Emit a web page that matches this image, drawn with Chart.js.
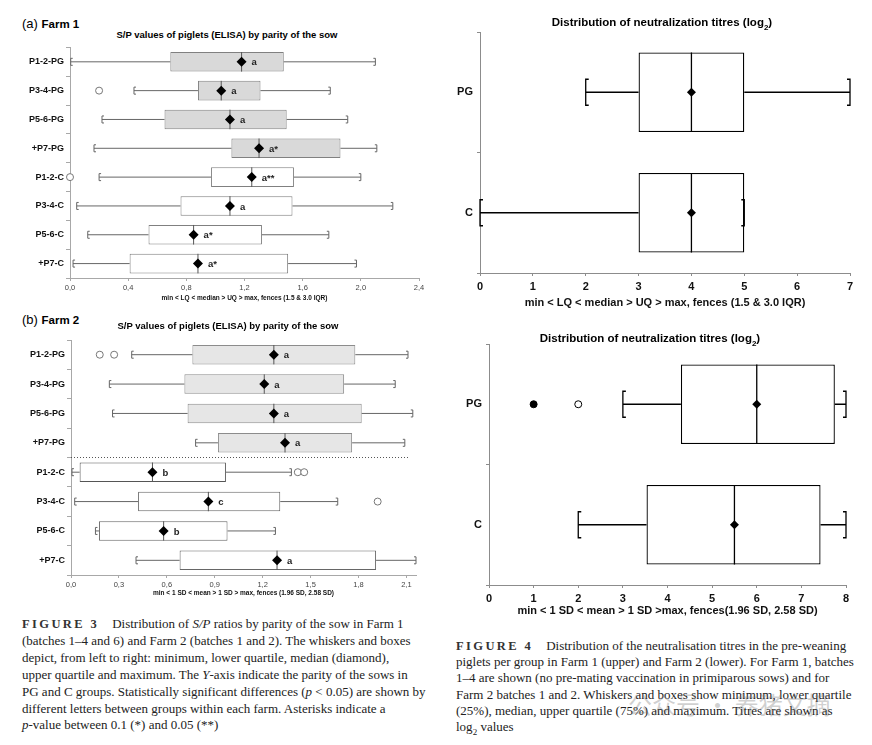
<!DOCTYPE html>
<html>
<head>
<meta charset="utf-8">
<script src="https://cdn.jsdelivr.net/npm/chart.js@4.4.1/dist/chart.umd.min.js"></script>
<style>
  body { margin:0; background:#fff; width:872px; height:745px; position:relative; overflow:hidden; font-family:'Liberation Sans', Arial, sans-serif; }
  canvas { position:absolute; }
  .t { position:absolute; white-space:nowrap; color:#000; }
  .panel { font-size:13px; transform:translateY(-50%); }
  .panel b { font-size:11.5px; }
  .ttl { font-weight:bold; transform:translate(-50%,-50%); }
  .ttl3 { font-size:9.5px; }
  .ttl4 { font-size:11.5px; }
  .cap { font-family:'Liberation Serif', 'DejaVu Serif', serif; font-size:13px; line-height:16.9px; color:#222; }
  .fig { font-weight:bold; letter-spacing:2.4px; font-size:12.5px; color:#333; }
  .wm { font-family:'Noto Sans CJK SC', sans-serif; font-size:24px; color:rgba(120,120,120,0.35); }
</style>
</head>
<body>
<canvas id="f3a" width="440" height="270" style="left:0;top:40px"></canvas>
<canvas id="f3b" width="440" height="277" style="left:0;top:330px"></canvas>
<canvas id="f4a" width="432" height="293" style="left:440px;top:20px"></canvas>
<canvas id="f4b" width="432" height="295" style="left:440px;top:330px"></canvas>

<div class="t panel" style="left:22px;top:23px">(a) <b>Farm 1</b></div>
<div class="t ttl ttl3" style="left:227px;top:34px">S/P values of piglets (ELISA) by parity of the sow</div>
<div class="t panel" style="left:22px;top:319px">(b) <b>Farm 2</b></div>
<div class="t ttl ttl3" style="left:228px;top:325px">S/P values of piglets (ELISA) by parity of the sow</div>
<div class="t ttl ttl4" style="left:662px;top:24px">Distribution of neutralization titres (log<sub style="font-size:8px">2</sub>)</div>
<div class="t ttl ttl4" style="left:650px;top:340px">Distribution of neutralization titres (log<sub style="font-size:8px">2</sub>)</div>

<div class="t cap" style="left:22px;top:616px"><span class="fig">FIGURE 3</span>&nbsp;&nbsp;&nbsp; Distribution of <i>S/P</i> ratios by parity of the sow in Farm 1<br>(batches 1–4 and 6) and Farm 2 (batches 1 and 2). The whiskers and boxes<br>depict, from left to right: minimum, lower quartile, median (diamond),<br>upper quartile and maximum. The <i>Y</i>-axis indicate the parity of the sows in<br>PG and C groups. Statistically significant differences (<i>p</i> &lt; 0.05) are shown by<br>different letters between groups within each farm. Asterisks indicate a<br><i>p</i>-value between 0.1 (*) and 0.05 (**)</div>
<div class="t cap" style="left:456px;top:638px;line-height:16.2px"><span class="fig">FIGURE 4</span>&nbsp;&nbsp;&nbsp; Distribution of the neutralisation titres in the pre-weaning<br>piglets per group in Farm 1 (upper) and Farm 2 (lower). For Farm 1, batches<br>1–4 are shown (no pre-mating vaccination in primiparous sows) and for<br>Farm 2 batches 1 and 2. Whiskers and boxes show minimum, lower quartile<br>(25%), median, upper quartile (75%) and maximum. Titres are shown as<br>log<sub style="font-size:9px">2</sub> values</div>
<div class="t wm" style="left:628px;top:686px">公众号 · 养猪文摘</div>

<script>
// Figure 3 (a) Farm 1 - S/P values
const parityGroups = ['P1-2-PG', 'P3-4-PG', 'P5-6-PG', '+P7-PG', 'P1-2-C', 'P3-4-C', 'P5-6-C', '+P7-C'];
const farm1Min      = [0.005, 0.44, 0.22, 0.165, 0.20, 0.046, 0.122, 0.021];
const farm1Q1       = [0.69, 0.88, 0.65, 1.11, 0.97, 0.76, 0.54, 0.41];
const farm1Median   = [1.18, 1.04, 1.10, 1.30, 1.25, 1.10, 0.85, 0.88];
const farm1Q3       = [1.47, 1.31, 1.49, 1.86, 1.54, 1.53, 1.32, 1.50];
const farm1Max      = [2.10, 1.79, 1.91, 2.11, 2.00, 2.22, 1.78, 1.97];
const farm1Outliers = [[], [0.20], [], [], [0.0], [], [], []];
const farm1Letters  = ['a', 'a', 'a', 'a*', 'a**', 'a', 'a*', 'a*'];

// Figure 3 (b) Farm 2 - S/P values
const farm2Min      = [0.38, 0.24, 0.26, 0.78, 0.006, 0.023, 0.153, 0.407];
const farm2Q1       = [0.76, 0.71, 0.73, 0.92, 0.054, 0.42, 0.175, 0.68];
const farm2Mean     = [1.27, 1.21, 1.27, 1.34, 0.51, 0.86, 0.58, 1.29];
const farm2Q3       = [1.78, 1.71, 1.82, 1.76, 0.97, 1.31, 0.98, 1.91];
const farm2Max      = [2.11, 2.03, 2.14, 2.09, 1.38, 1.67, 1.28, 2.16];
const farm2Outliers = [[0.18, 0.27], [], [], [], [1.42, 1.46], [1.92], [], []];
const farm2Letters  = ['a', 'a', 'a', 'a', 'b', 'c', 'b', 'a'];

// Figure 4 - neutralization titres (log2)
const titreGroups   = ['PG', 'C'];
const titre1Min     = [2, 0];
const titre1Q1      = [3, 3];
const titre1Median  = [4, 4];
const titre1Q3      = [5, 5];
const titre1Max     = [7, 5];
const titre2Min     = [3, 2];
const titre2Q1      = [4.3, 3.53];
const titre2Median  = [6, 5.5];
const titre2Q3      = [7.75, 7.43];
const titre2Max     = [8, 8];
const titre2Mild    = [[2], []];
const titre2Extreme = [[1], []];

function outlierPoints(groups, list) {
  const pts = [];
  list.forEach((vals, i) => vals.forEach(v => pts.push({ x: v, y: groups[i] })));
  return pts;
}

function whiskerPlugin(s) {
  return {
    id: 'whiskers',
    afterDatasetDraw(chart, args) {
      if (args.index !== 0) return;
      const ctx = chart.ctx, xs = chart.scales.x, ys = chart.scales.y;
      const bars = chart.getDatasetMeta(0).data;
      const px = v => xs.getPixelForValue(v);
      ctx.save();
      ctx.lineWidth = s.lineW;
      s.groups.forEach((g, i) => {
        const y = ys.getPixelForValue(i);
        const h = bars[i].height / 2;
        ctx.strokeStyle = s.whisker;
        ctx.beginPath();
        ctx.moveTo(px(s.min[i]), y); ctx.lineTo(px(s.q1[i]), y);
        ctx.moveTo(px(s.q3[i]), y); ctx.lineTo(px(s.max[i]), y);
        [[s.min[i], 1], [s.max[i], -1]].forEach(([v, d]) => {
          const x = px(v);
          ctx.moveTo(x + d * s.stub, y - s.cap);
          ctx.lineTo(x, y - s.cap);
          ctx.lineTo(x, y + s.cap);
          ctx.lineTo(x + d * s.stub, y + s.cap);
        });
        ctx.stroke();
        ctx.strokeStyle = s.medianLine;
        ctx.beginPath();
        ctx.moveTo(px(s.median[i]), y - h); ctx.lineTo(px(s.median[i]), y + h);
        ctx.stroke();
      });
      ctx.restore();
    },
    afterDatasetsDraw(chart) {
      const ctx = chart.ctx, xs = chart.scales.x, ys = chart.scales.y;
      ctx.save();
      if (s.letters) {
        ctx.fillStyle = '#222';
        ctx.font = 'bold 9.5px "Liberation Sans", Arial';
        ctx.textBaseline = 'middle';
        s.letters.forEach((l, i) => ctx.fillText(l, xs.getPixelForValue(s.median[i]) + 10, ys.getPixelForValue(i) + 1));
      }
      if (s.separator != null) {
        const y = (ys.getPixelForValue(s.separator) + ys.getPixelForValue(s.separator + 1)) / 2;
        ctx.strokeStyle = '#555';
        ctx.lineWidth = 1;
        ctx.setLineDash([1, 2]);
        ctx.beginPath();
        ctx.moveTo(chart.chartArea.left, y); ctx.lineTo(chart.chartArea.right - 6, y);
        ctx.stroke();
      }
      ctx.restore();
    }
  };
}

function boxChart(id, s) {
  const datasets = [
    { data: s.q1.map((v, i) => [v, s.q3[i]]), backgroundColor: s.fill, borderColor: s.border, borderWidth: s.lineW,
      borderSkipped: false, barPercentage: 1, categoryPercentage: s.boxShare, order: 3 },
    { type: 'scatter', data: s.median.map((v, i) => ({ x: v, y: s.groups[i] })), pointStyle: 'rectRot', pointRadius: s.diamond,
      backgroundColor: '#000', borderWidth: 0, clip: false, order: 1 },
    { type: 'scatter', data: outlierPoints(s.groups, s.outliers), pointStyle: 'circle', pointRadius: s.dot,
      backgroundColor: '#fff', borderColor: s.dotColor, borderWidth: 1, clip: false, order: 1 }
  ];
  if (s.extremes) {
    datasets.push({ type: 'scatter', data: outlierPoints(s.groups, s.extremes), pointStyle: 'circle', pointRadius: s.dot,
      backgroundColor: '#000', borderColor: '#000', borderWidth: 1, clip: false, order: 1 });
  }
  return new Chart(document.getElementById(id), {
    type: 'bar',
    data: { labels: s.groups, datasets },
    plugins: [whiskerPlugin(s)],
    options: {
      indexAxis: 'y',
      responsive: false,
      animation: false,
      events: [],
      layout: { padding: { left: 0, right: s.padR, top: s.padT, bottom: 0 } },
      plugins: { legend: { display: false }, tooltip: { enabled: false } },
      scales: {
        x: {
          type: 'linear', min: s.xMin, max: s.xMax,
          afterFit: sc => { sc.height = s.xAxisH; },
          border: { color: s.axisColor },
          grid: { drawOnChartArea: false, color: s.axisColor, tickLength: 3 },
          ticks: { stepSize: s.step, includeBounds: false, color: s.tickColor, font: s.tickFont, padding: s.xPad,
                   maxRotation: 0, autoSkip: false, callback: s.fmt },
          title: { display: true, text: s.xTitle, color: '#111', font: s.titleFont, padding: { top: 0, bottom: s.titlePad } }
        },
        y: {
          type: 'category', offset: true,
          afterFit: sc => { sc.width = s.yAxisW; },
          border: { color: s.axisColor },
          grid: { offset: true, drawOnChartArea: false, color: s.axisColor, tickLength: s.yTick },
          ticks: { color: '#111', font: s.labelFont, padding: s.yPad, autoSkip: false }
        }
      }
    }
  });
}

const comma = v => v.toFixed(1).replace('.', ',');
const fig3Common = {
  groups: parityGroups, lineW: 1, whisker: '#666', medianLine: '#555', cap: 3.5, stub: 2,
  boxShare: 0.68, diamond: 5, dot: 3.5, dotColor: '#777', axisColor: '#a8a8a8', tickColor: '#444',
  tickFont: { family: 'Liberation Sans', size: 7.5 }, labelFont: { family: 'Liberation Sans', size: 9, weight: 'bold' },
  titleFont: { family: 'Liberation Sans', size: 6.5, weight: 'bold' }, xPad: 2, yTick: 4, yPad: 2, xAxisH: 32, fmt: comma
};

boxChart('f3a', Object.assign({}, fig3Common, {
  min: farm1Min, q1: farm1Q1, median: farm1Median, q3: farm1Q3, max: farm1Max, outliers: farm1Outliers, letters: farm1Letters,
  fill: ['#d9d9d9', '#d9d9d9', '#d9d9d9', '#d9d9d9', '#fff', '#fff', '#fff', '#fff'], border: '#808080',
  xMin: 0, xMax: 2.4, step: 0.4, yAxisW: 70, padT: 7, padR: 21, titlePad: 8,
  xTitle: 'min < LQ < median > UQ > max, fences (1.5 & 3.0 IQR)'
}));

boxChart('f3b', Object.assign({}, fig3Common, {
  min: farm2Min, q1: farm2Q1, median: farm2Mean, q3: farm2Q3, max: farm2Max, outliers: farm2Outliers, letters: farm2Letters,
  fill: ['#e6e6e6', '#e6e6e6', '#e6e6e6', '#e6e6e6', '#fff', '#fff', '#fff', '#fff'],
  border: ['#8c8c8c', '#8c8c8c', '#8c8c8c', '#8c8c8c', '#555', '#666', '#666', '#666'],
  xMin: 0, xMax: 2.16, step: 0.3, yAxisW: 71, padT: 10, padR: 24, titlePad: 10, separator: 3, boxShare: 0.66,
  xTitle: 'min < 1 SD < mean > 1 SD > max, fences (1.96 SD, 2.58 SD)'
}));

const fig4Common = {
  groups: titreGroups, lineW: 1.3, whisker: '#000', medianLine: '#000', cap: 13, stub: 3,
  boxShare: 0.66, diamond: 4.5, dot: 3.5, dotColor: '#000', axisColor: '#8c8c8c', tickColor: '#111',
  fill: '#fff', border: '#000', outliers: [[], []],
  tickFont: { family: 'Liberation Sans', size: 11, weight: 'bold' }, labelFont: { family: 'Liberation Sans', size: 11, weight: 'bold' },
  titleFont: { family: 'Liberation Sans', size: 11, weight: 'bold' }, xPad: 4, yTick: 3, yPad: 4, xAxisH: 40, step: 1,
  fmt: v => String(v)
};

boxChart('f4a', Object.assign({}, fig4Common, {
  min: titre1Min, q1: titre1Q1, median: titre1Median, q3: titre1Q3, max: titre1Max,
  xMin: 0, xMax: 7, yAxisW: 40, padT: 12, padR: 22, titlePad: 3.5,
  xTitle: 'min < LQ < median > UQ > max, fences (1.5 & 3.0 IQR)'
}));

boxChart('f4b', Object.assign({}, fig4Common, {
  min: titre2Min, q1: titre2Q1, median: titre2Median, q3: titre2Q3, max: titre2Max,
  outliers: titre2Mild, extremes: titre2Extreme,
  xMin: 0, xMax: 8, yAxisW: 49, padT: 14, padR: 26, titlePad: 7.5,
  xTitle: 'min < 1 SD < mean > 1 SD >max, fences(1.96 SD, 2.58 SD)'
}));
</script>
</body>
</html>
